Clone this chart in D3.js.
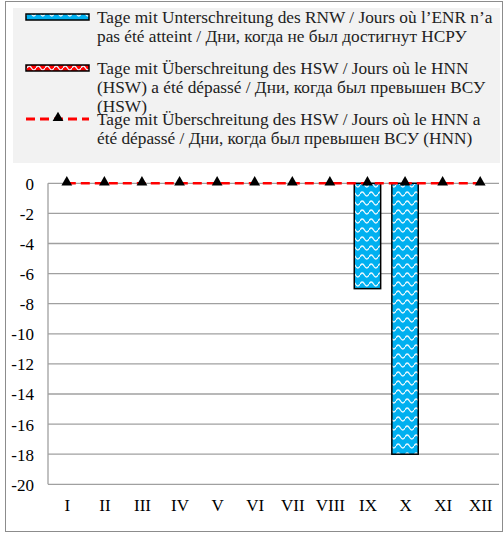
<!DOCTYPE html>
<html><head><meta charset="utf-8">
<script src="https://cdn.jsdelivr.net/npm/d3@7"></script>
<style>body{margin:0;background:#fff}svg{display:block}</style>
</head><body>
<script>
const months = ["I","II","III","IV","V","VI","VII","VIII","IX","X","XI","XII"];
const belowRNW = [0,0,0,0,0,0,0,0,-7,-18,0,0];
const aboveHSWbars = [0,0,0,0,0,0,0,0,0,0,0,0];
const aboveHNNline = [0,0,0,0,0,0,0,0,0,0,0,0];
const yTicks = [0,-2,-4,-6,-8,-10,-12,-14,-16,-18,-20];
const legendItems = [
  {type:"blue", lines:["Tage mit Unterschreitung des RNW / Jours où l’ENR n’a","pas été atteint / Дни, когда не был достигнут НСРУ"]},
  {type:"red", lines:["Tage mit Überschreitung des HSW / Jours où le HNN","(HSW) a été dépassé / Дни, когда был превышен ВСУ","(HSW)"]},
  {type:"line", lines:["Tage mit Überschreitung des HSW / Jours où le HNN a","été dépassé / Дни, когда был превышен ВСУ (HNN)"]}
];

const W=504,H=533;
const svg=d3.select("body").append("svg").attr("width",W).attr("height",H);
const defs=svg.append("defs");
function wave(id,color){
  const p=defs.append("pattern").attr("id",id).attr("patternUnits","userSpaceOnUse")
    .attr("width",9).attr("height",9);
  p.append("rect").attr("width",9).attr("height",9).attr("fill",color);
  p.append("path").attr("d","M0,5 Q2.25,1 4.5,5 T9,5").attr("fill","none")
    .attr("stroke","#e8f8ff").attr("stroke-width",1.3);
}
wave("wblue","#00b0f0");
wave("wred","#ff0000");

svg.append("rect").attr("x",5.5).attr("y",1.5).attr("width",497).attr("height",530)
  .attr("fill","#fff").attr("stroke","#8c8c8c").attr("stroke-width",1);

// legend
svg.append("rect").attr("x",13).attr("y",8).attr("width",487).attr("height",155).attr("fill","#f2f2f2");
const font="Liberation Serif, Times New Roman, serif";
const itemTops=[17,68,119];
legendItems.forEach((it,i)=>{
  const cy=itemTops[i];
  if(it.type==="line"){
    svg.append("line").attr("x1",26).attr("x2",89).attr("y1",cy).attr("y2",cy)
      .attr("stroke","#ff0000").attr("stroke-width",3).attr("stroke-dasharray","9,5");
    svg.append("path").attr("d",d3.symbol(d3.symbolTriangle,50)())
      .attr("transform",`translate(58,${cy-1})`).attr("fill","#000");
  } else {
    svg.append("rect").attr("x",26).attr("y",cy-3).attr("width",63).attr("height",6)
      .attr("fill",it.type==="blue"?"url(#wblue)":"url(#wred)").attr("stroke","#000").attr("stroke-width",1.5);
  }
  it.lines.forEach((t,j)=>{
    svg.append("text").attr("x",97).attr("y",cy+5.5+j*19).attr("font-family",font)
      .attr("font-size",17.3).attr("fill","#222").text(t);
  });
});

// plot
const bandStep=451/12;
const xPos=d3.scalePoint().domain(months).range([48+bandStep/2,499-bandStep/2]);
const y=d3.scaleLinear().domain([-20,0]).range([484.3,183.3]);

const grid=svg.append("g");
yTicks.forEach(v=>{
  grid.append("line").attr("x1",48).attr("x2",499).attr("y1",y(v)).attr("y2",y(v))
    .attr("stroke","#a0a0a0").attr("stroke-width",1.3);
});
svg.append("line").attr("x1",48).attr("x2",48).attr("y1",y(0)).attr("y2",y(-20))
  .attr("stroke","#a0a0a0").attr("stroke-width",1.3);

const yAx=d3.axisLeft(y).tickValues(yTicks).tickSize(0).tickPadding(0).tickFormat(d=>String(d));
const ga=svg.append("g").attr("transform","translate(34,0)").call(yAx);
ga.select(".domain").remove();
ga.selectAll("text").attr("font-family",font).attr("font-size",17).attr("fill","#000").attr("dy","0.35em");

const xAx=d3.axisBottom(xPos).tickSize(0).tickPadding(0);
const gx=svg.append("g").attr("transform","translate(0,505)").call(xAx);
gx.select(".domain").remove();
gx.selectAll("text").attr("font-family",font).attr("font-size",17).attr("fill","#000").attr("dy","0.35em");

// bars
const bw=26.4;
svg.append("g").selectAll("rect").data(belowRNW.map((v,i)=>({m:months[i],v})).filter(d=>d.v!==0))
  .join("rect").attr("x",d=>xPos(d.m)-bw/2).attr("width",bw)
  .attr("y",y(0)).attr("height",d=>y(d.v)-y(0))
  .attr("fill","url(#wblue)").attr("stroke","#000").attr("stroke-width",1.5);
svg.append("g").selectAll("rect").data(aboveHSWbars.map((v,i)=>({m:months[i],v})).filter(d=>d.v!==0))
  .join("rect").attr("x",d=>xPos(d.m)-bw/2).attr("width",bw)
  .attr("y",d=>y(Math.max(0,d.v))).attr("height",d=>Math.abs(y(d.v)-y(0)))
  .attr("fill","url(#wred)").attr("stroke","#000").attr("stroke-width",1.5);

// line
const line=d3.line().x((d,i)=>xPos(months[i])).y(d=>y(d));
svg.append("path").datum(aboveHNNline).attr("d",line).attr("fill","none")
  .attr("stroke","#ff0000").attr("stroke-width",2.5).attr("stroke-dasharray","9,5");
svg.append("g").selectAll("path").data(aboveHNNline).join("path")
  .attr("d",d3.symbol(d3.symbolTriangle,50)())
  .attr("transform",(d,i)=>`translate(${xPos(months[i])},${y(d)-1})`).attr("fill","#000");
</script>
</body></html>
